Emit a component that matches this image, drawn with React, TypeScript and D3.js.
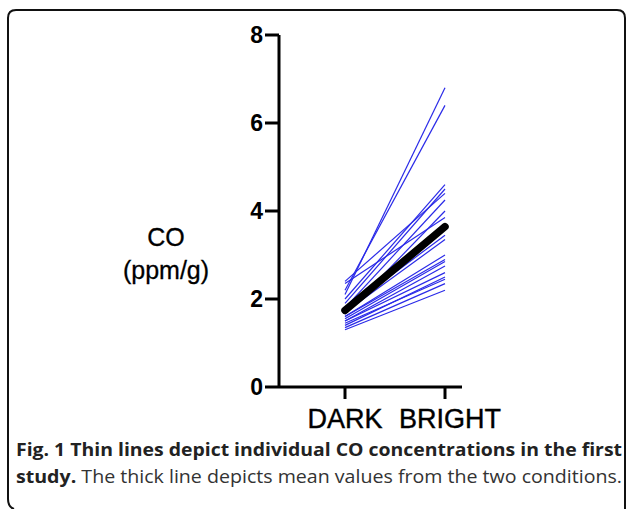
import React from "react";
import * as d3 from "d3";

const conditions = ["DARK", "BRIGHT"];
const darkValues = [2.1, 2.2, 2.4, 2.35, 2.0, 1.9, 1.8, 1.75, 1.7, 1.65, 1.6, 1.6, 1.55, 1.5, 1.5, 1.45, 1.4, 1.35, 1.3];
const brightValues = [6.8, 6.4, 4.4, 3.85, 4.6, 4.5, 4.25, 3.45, 3.35, 4.0, 2.9, 3.0, 2.85, 2.75, 2.6, 2.45, 2.5, 2.35, 2.2];
const yTicks = [0, 2, 4, 6, 8];

export default function App() {
  const W = 629, H = 509;
  const x = d3.scalePoint<string>().domain(conditions).range([345, 445]);
  const y = d3.scaleLinear().domain([0, 8]).range([387, 35]);
  const line = d3.line<number>().x((_, i) => x(conditions[i])!).y((d) => y(d));
  const meanVals = [d3.mean(darkValues)!, d3.mean(brightValues)!];
  const axisX = 279;
  const sans = "Liberation Sans, Arial, sans-serif";
  return (
    <svg width={W} height={H} style={{ position: "absolute", left: 0, top: 0, background: "#fff" }}>
      <path d={`M14,509 Q8,507 8,499 L8,18 Q8,10 16,10 L617,10 Q625,10 625,18 L625,509`} fill="none" stroke="#111" strokeWidth={2} />
      {darkValues.map((d, i) => (
        <path key={i} d={line([d, brightValues[i]])!} fill="none" stroke="#2a2ae8" strokeWidth={1.2} />
      ))}
      <path d={line(meanVals)!} fill="none" stroke="#000" strokeWidth={7.5} strokeLinecap="round" />
      <line x1={axisX} x2={axisX} y1={y(8)} y2={y(0)} stroke="#000" strokeWidth={3} />
      <line x1={axisX} x2={462} y1={y(0)} y2={y(0)} stroke="#000" strokeWidth={3} />
      {yTicks.map((t) => (
        <g key={t}>
          <line x1={axisX - 14} x2={axisX} y1={y(t)} y2={y(t)} stroke="#000" strokeWidth={3} />
          <text x={axisX - 16} y={y(t)} dy="0.36em" textAnchor="end" fontFamily={sans} fontWeight="bold" fontSize={23} fill="#000">{t}</text>
        </g>
      ))}
      {conditions.map((c) => (
        <g key={c}>
          <line x1={x(c)!} x2={x(c)!} y1={y(0)} y2={y(0) + 12} stroke="#000" strokeWidth={3} />
          <text x={x(c)! + (c === "BRIGHT" ? 5 : 0)} y={428} textAnchor="middle" fontFamily={sans} fontSize={27} fill="#000" stroke="#000" strokeWidth={0.4}>{c}</text>
        </g>
      ))}
      <text x={166} y={246} textAnchor="middle" fontFamily={sans} fontSize={25} fill="#000" stroke="#000" strokeWidth={0.3}>CO</text>
      <text x={166} y={279} textAnchor="middle" fontFamily={sans} fontSize={25} fill="#000" stroke="#000" strokeWidth={0.3}>(ppm/g)</text>
      <text x={16} y={456} fontFamily="Open Sans, sans-serif" fontSize={18} fontWeight="bold" fill="#222" textLength={606} lengthAdjust="spacingAndGlyphs">Fig. 1 Thin lines depict individual CO concentrations in the first</text>
      <text x={16} y={483} fontFamily="Open Sans, sans-serif" fontSize={18} fill="#333" textLength={606} lengthAdjust="spacingAndGlyphs"><tspan fontWeight="bold" fill="#222">study.</tspan> The thick line depicts mean values from the two conditions.</text>
    </svg>
  );
}
